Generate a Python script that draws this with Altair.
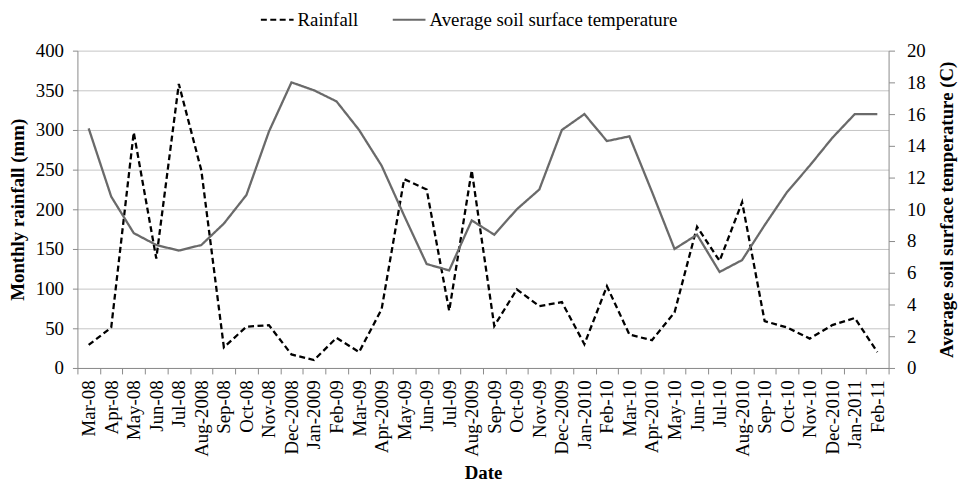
import altair as alt
import pandas as pd

months = ["Mar-08", "Apr-08", "May-08", "Jun-08", "Jul-08", "Aug-2008", "Sep-08", "Oct-08",
          "Nov-08", "Dec-2008", "Jan-2009", "Feb-09", "Mar-09", "Apr-2009", "May-09", "Jun-09",
          "Jul-09", "Aug-2009", "Sep-09", "Oct-09", "Nov-09", "Dec-2009", "Jan-2010", "Feb-10",
          "Mar-10", "Apr-2010", "May-10", "Jun-10", "Jul-10", "Aug-2010", "Sep-10", "Oct-10",
          "Nov-10", "Dec-2010", "Jan-2011", "Feb-11"]

rainfall = [29, 51, 297, 138, 358, 249, 26, 52, 54, 17, 10, 38, 20, 74, 238, 225, 72, 249,
            53, 99, 78, 83, 30, 103, 42, 35, 70, 178, 135, 209, 59, 51, 37, 54, 63, 20]

temperature = [15.1, 10.8, 8.5, 7.75, 7.4, 7.75, 9.1, 10.9, 14.9, 18.0, 17.5, 16.8, 15.0,
               12.75, 9.6, 6.55, 6.15, 9.3, 8.4, 10.0, 11.25, 15.0, 16.0, 14.3, 14.6, 11.1,
               7.5, 8.4, 6.05, 6.8, 9.0, 11.1, 12.75, 14.5, 16.0, 16.0]

series_names = ["Rainfall", "Average soil surface temperature"]

rain_df = pd.DataFrame({"month": months, "value": rainfall, "series": series_names[0]})
temp_df = pd.DataFrame({"month": months, "value": temperature, "series": series_names[1]})

FONT = "Liberation Serif"
AXIS_GREY = "#8a8a8a"

x_enc = alt.X(
    "month:N",
    sort=months,
    bandPosition=0.5,
    scale=alt.Scale(type="band", paddingInner=0, paddingOuter=0),
    axis=alt.Axis(
        title="Date",
        labelAngle=270,
        tickBand="extent",
        labelOverlap=False,
        labelPadding=6,
        tickSize=6,
        titlePadding=7,
    ),
)

color_enc = alt.Color(
    "series:N",
    scale=alt.Scale(domain=series_names, range=["#000000", "#6a6a6a"]),
    legend=alt.Legend(title=None),
)
dash_enc = alt.StrokeDash(
    "series:N",
    scale=alt.Scale(domain=series_names, range=[[6, 3.5], [1, 0]]),
    legend=alt.Legend(title=None),
)

rain_line = alt.Chart(rain_df).mark_line(strokeWidth=2.3).encode(
    x=x_enc,
    y=alt.Y(
        "value:Q",
        scale=alt.Scale(domain=[0, 400], nice=False),
        axis=alt.Axis(
            title="Monthly rainfall (mm)",
            values=list(range(0, 401, 50)),
            grid=True,
            gridColor="#c4c4c4",
            tickSize=5,
            labelPadding=9,
            titlePadding=8,
        ),
    ),
    color=color_enc,
    strokeDash=dash_enc,
)

temp_line = alt.Chart(temp_df).mark_line(strokeWidth=2.3).encode(
    x=x_enc,
    y=alt.Y(
        "value:Q",
        scale=alt.Scale(domain=[0, 20], nice=False),
        axis=alt.Axis(
            title="Average soil surface temperature (C)",
            orient="right",
            values=list(range(0, 21, 2)),
            grid=False,
            tickSize=6,
            labelPadding=12,
            titlePadding=12,
            titleAngle=270,
            titleBaseline="top",
        ),
    ),
    color=color_enc,
    strokeDash=dash_enc,
)

chart = (
    alt.layer(rain_line, temp_line)
    .resolve_scale(y="independent", color="shared", strokeDash="shared")
    .properties(
        width=818,
        height=320,
        autosize=alt.AutoSizeParams(type="none"),
        padding={"left": 70, "top": 41, "right": 70, "bottom": 114},
        background="white",
    )
    .configure_view(stroke=None)
    .configure_axis(
        labelFont=FONT,
        labelFontSize=19,
        labelColor="#000000",
        titleFont=FONT,
        titleFontSize=19,
        titleFontWeight="bold",
        titleColor="#000000",
        domainColor=AXIS_GREY,
        tickColor=AXIS_GREY,
        domainWidth=1,
        tickWidth=1,
    )
    .configure_legend(
        orient="none",
        legendX=184,
        legendY=-49,
        direction="horizontal",
        symbolType="stroke",
        symbolSize=1089,
        symbolStrokeWidth=2,
        labelFont=FONT,
        labelFontSize=19,
        labelColor="#000000",
        labelLimit=500,
        labelOffset=3,
        columnPadding=30,
        padding=0,
    )
)

chart.save("out.html", embed_options={"renderer": "svg", "actions": False})
